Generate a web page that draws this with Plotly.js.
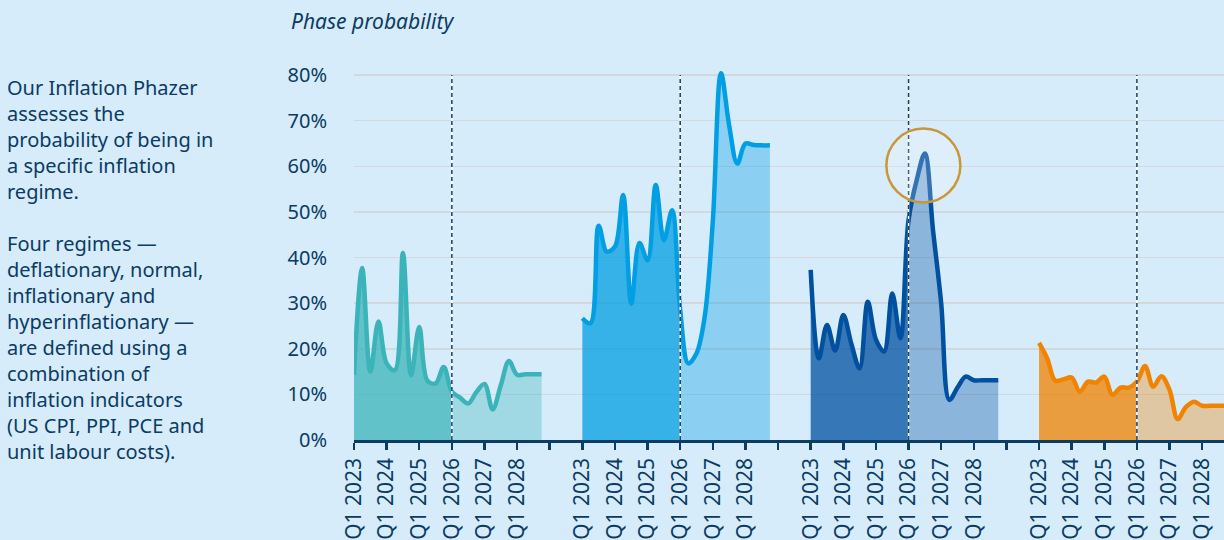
<!DOCTYPE html>
<html><head><meta charset="utf-8">
<script src="https://cdn.plot.ly/plotly-3.0.1.min.js"></script>
<style>html,body{margin:0;padding:0;background:#d6ecfb;overflow:hidden}</style>
</head><body><div id="chart" style="width:1224px;height:540px"></div>
<script>
// ---- data ----
const quarters = ['Q1 2023','Q2 2023','Q3 2023','Q4 2023','Q1 2024','Q2 2024','Q3 2024','Q4 2024',
  'Q1 2025','Q2 2025','Q3 2025','Q4 2025','Q1 2026','Q2 2026','Q3 2026','Q4 2026',
  'Q1 2027','Q2 2027','Q3 2027','Q4 2027','Q1 2028','Q2 2028','Q3 2028','Q4 2028'];
const tickLabels = ['Q1 2023','Q1 2024','Q1 2025','Q1 2026','Q1 2027','Q1 2028'];
const regimes = ['Deflationary','Normal','Inflationary','Hyperinflationary'];
const deflationary = [14.3,37.7,15,26,16.8,15.3,41,14.2,24.8,13,12.4,16,10.6,9.3,8,10.5,12.3,6.7,12,17.3,14.3,14.4,14.4,14.4];
const normal = [26.7,25.6,47,41.3,42.4,53.7,29.9,43.2,39.4,55.9,43.8,50.4,28.5,16.8,19,27,48,80.4,69,60.6,65,64.7,64.6,64.6];
const inflationary = [37.3,17.9,25.2,19.6,27.4,21,15.7,30.3,22,19.4,32.1,22.3,48.2,57,62.8,46,30,8.8,11.5,13.9,13.1,13.1,13.1,13.1];
const hyperinflationary = [21.3,17.9,13,13.3,13.7,10.6,12.8,12.6,13.9,9.9,11.5,11.5,12.8,16.2,11.7,14,11,4.6,7.2,8.4,7.5,7.5,7.5,7.5];
const yTicks = [0,10,20,30,40,50,60,70,80];
const forecastStart = 'Q1 2026';
const highlight = {regime: 'Inflationary', quarter: 'Q3 2026'};
const sideLines = ['Our Inflation Phazer','assesses the','probability of being in','a specific inflation','regime.','',
  'Four regimes —','deflationary, normal,','inflationary and','hyperinflationary —','are defined using a',
  'combination of','inflation indicators','(US CPI, PPI, PCE and','unit labour costs).'];

// ---- styling / layout logic ----
const series = [deflationary, normal, inflationary, hyperinflationary];
const lineColors = [[59,180,185],[0,159,227],[0,80,160],[240,131,0]];
const slot = 7; // years reserved per regime panel
const textColor = '#0b3b63';
const axisColor = '#0d3c62';
const xpos = (p, i) => p*slot + i/4;
const fIdx = quarters.indexOf(forecastStart);
const rgba = (c,a) => `rgba(${c[0]},${c[1]},${c[2]},${a})`;

const traces = [];
const shapes = [];
series.forEach((vals, p) => {
  const c = lineColors[p];
  const xs = vals.map((v,i) => xpos(p,i));
  traces.push({x: xs.slice(0,fIdx+1), y: vals.slice(0,fIdx+1), type:'scatter', mode:'lines',
    line:{width:0, shape:'spline', color:rgba(c,0)}, fill:'tozeroy', fillcolor:rgba(c,0.75), hoverinfo:'skip'});
  traces.push({x: xs.slice(fIdx), y: vals.slice(fIdx), type:'scatter', mode:'lines',
    line:{width:0, shape:'spline', color:rgba(c,0)}, fill:'tozeroy', fillcolor:rgba(c,0.35), hoverinfo:'skip'});
  traces.push({x: xs, y: vals, type:'scatter', mode:'lines', name: regimes[p],
    line:{width:4.5, shape:'spline', color:rgba(c,1)}, hoverinfo:'skip'});
  const fx = xpos(p, fIdx);
  shapes.push({type:'line', xref:'x', yref:'y', x0:fx, x1:fx, y0:0, y1:yTicks[yTicks.length-1],
    line:{color:'#ffffff', width:1.5}, layer:'above'});
  shapes.push({type:'line', xref:'x', yref:'y', x0:fx, x1:fx, y0:0, y1:yTicks[yTicks.length-1],
    line:{color:'#1b3a6e', width:1.5, dash:'4px,3px'}, layer:'above'});
});

// highlight circle around the peak
const hp = regimes.indexOf(highlight.regime);
const hq = quarters.indexOf(highlight.quarter);
shapes.push({type:'circle', xref:'x', yref:'y', xsizemode:'pixel', ysizemode:'pixel',
  xanchor: xpos(hp,hq), yanchor: series[hp][hq], x0:-38.5, x1:35.5, y0:-49, y1:25,
  line:{color:'#c9973a', width:2.5}, fillcolor:'rgba(255,255,255,0.2)', layer:'above'});

// tick values every year along the whole axis
const nTicks = 27;
const tickvals = [], ticktext = [];
for (let i = 0; i < nTicks; i++) {
  tickvals.push(i);
  ticktext.push(tickLabels[i % slot] || '');
}

const layout = {
  width:1224, height:540,
  paper_bgcolor:'#d6ecfb', plot_bgcolor:'#d6ecfb',
  margin:{l:354, r:0, t:66, b:100},
  showlegend:false,
  font:{family:'Noto Sans, Open Sans, sans-serif', color:textColor, size:20},
  title:{text:'<i>Phase probability</i>', xref:'container', yref:'container',
    x:291/1224, xanchor:'left', y:1-22/540, yanchor:'middle',
    font:{size:21, family:'Noto Sans, sans-serif', color:textColor}},
  xaxis:{range:[0, 26.67], tickvals:tickvals, ticktext:ticktext, tickangle:-90,
    ticks:'outside', ticklen:7, tickwidth:2.5, tickcolor:axisColor,
    showline:true, linecolor:axisColor, linewidth:2.5, showgrid:false, zeroline:false,
    tickfont:{size:21, color:textColor}, fixedrange:true},
  yaxis:{range:[0,82], tickvals:yTicks, ticktext:yTicks.map(v => v + '%'),
    showgrid:true, gridcolor:'#d2d8dc', gridwidth:1.5, zeroline:false, showline:false,
    ticks:'outside', ticklen:22, tickcolor:'rgba(0,0,0,0)', tickfont:{size:20, color:textColor}, fixedrange:true},
  annotations:[{text:sideLines.join('<br>'), xref:'paper', yref:'paper', x:(5-354)/870, xanchor:'left',
    y:0.457, yanchor:'middle', align:'left', showarrow:false, font:{size:20, color:textColor}}],
  shapes:shapes
};

Plotly.newPlot('chart', traces, layout, {staticPlot:true, displayModeBar:false});
</script>
</body></html>
